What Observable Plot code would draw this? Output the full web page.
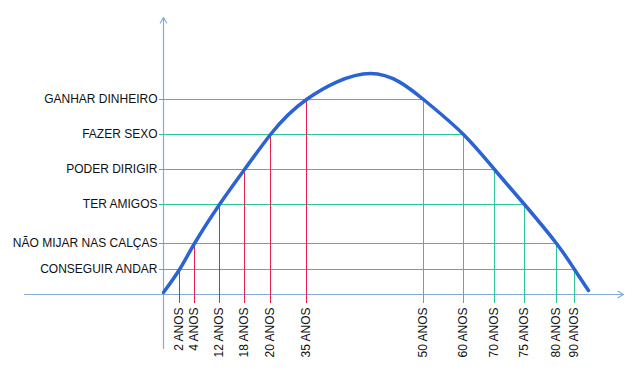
<!DOCTYPE html>
<html>
<head>
<meta charset="utf-8">
<script src="https://cdn.jsdelivr.net/npm/d3@7"></script>
<script src="https://cdn.jsdelivr.net/npm/@observablehq/plot@0.6"></script>
<style>
  html, body { margin: 0; padding: 0; background: #fff; }
</style>
</head>
<body>
<div id="chart"></div>
<script>
// Life goals (levels on the vertical axis)
const levelLabels = ["CONSEGUIR ANDAR", "NÃO MIJAR NAS CALÇAS", "TER AMIGOS", "PODER DIRIGIR", "FAZER SEXO", "GANHAR DINHEIRO"];
const levelValues = [25, 51, 90, 125, 160, 195];

// Ages when reached (rising side) – positions along the horizontal axis
const youngLabels = ["2 ANOS", "4 ANOS", "12 ANOS", "18 ANOS", "20 ANOS", "35 ANOS"];
const youngPos = [16, 31, 56, 81, 107, 143];

// Ages when lost (falling side), same order as the levels
const oldLabels = ["90 ANOS", "80 ANOS", "75 ANOS", "70 ANOS", "60 ANOS", "50 ANOS"];
const oldPos = [411, 393, 361, 331, 300, 260];

// Curve endpoints and peak
const curveExtraX = [0, 207, 425];
const curveExtraY = [2, 221, 4];

const levels = levelLabels.map((label, i) => ({label, y: levelValues[i], xOld: oldPos[i], xYoung: youngPos[i]}));
const young = youngLabels.map((label, i) => ({label, x: youngPos[i], y: levelValues[i]}));
const old = oldLabels.map((label, i) => ({label, x: oldPos[i], y: levelValues[i]}));

const curve = [
  ...young.map(d => ({x: d.x, y: d.y})),
  ...old.map(d => ({x: d.x, y: d.y})),
  ...curveExtraX.map((x, i) => ({x, y: curveExtraY[i]}))
].sort((a, b) => a.x - b.x);

const axisColor = "#86aad6";
const green = "#2fc59a";
const red = "#e3214f";
const blue = "#2b63d3";

const chart = Plot.plot({
  width: 640,
  height: 374,
  marginLeft: 24,
  marginRight: 17,
  marginTop: 17,
  marginBottom: 26,
  x: {domain: [-139, 460], axis: null},
  y: {domain: [-54, 277], axis: null},
  style: {fontFamily: "'Liberation Sans', Arial, sans-serif", fontSize: "12px", background: "#fff"},
  marks: [
    // axes
    Plot.arrow([{}], {x1: -139, y1: 0, x2: 460, y2: 0, stroke: axisColor, strokeWidth: 1.2, headLength: 8}),
    Plot.arrow([{}], {x1: 0, y1: -54, x2: 0, y2: 277, stroke: axisColor, strokeWidth: 1.2, headLength: 8}),
    // horizontal level lines
    Plot.ruleY(levels, {y: "y", x1: -4, x2: "xOld", stroke: green, strokeWidth: 1}),
    // vertical age lines
    Plot.ruleX(young, {x: "x", y1: -9, y2: "y", stroke: red, strokeWidth: 1}),
    Plot.ruleX(old, {x: "x", y1: -9, y2: "y", stroke: green, strokeWidth: 1}),
    // life curve
    Plot.line(curve, {x: "x", y: "y", curve: "natural", stroke: blue, strokeWidth: 3.5, strokeLinecap: "round"}),
    // labels
    Plot.text(levels, {x: 0, y: "y", text: "label", dx: -6, textAnchor: "end", fill: "#111"}),
    Plot.text([...young, ...old], {x: "x", y: -13, text: "label", rotate: -90, textAnchor: "end", fill: "#111"})
  ]
});
document.getElementById("chart").appendChild(chart);
</script>
</body>
</html>
